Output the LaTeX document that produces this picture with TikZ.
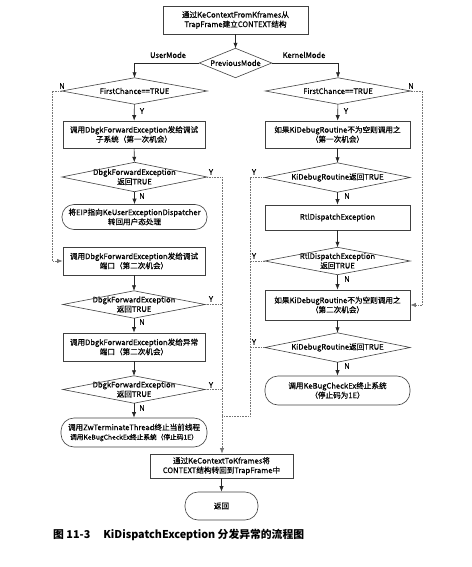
\documentclass[tikz,border=0pt]{standalone}
\usepackage{fontspec}
\setmainfont{Noto Sans CJK SC}
\newfontfamily\boxfont{Noto Sans CJK SC}[FakeBold=0.5]
\usetikzlibrary{arrows.meta}
\tikzset{
  every node/.style={inner sep=0pt, align=center},
  txt/.style={font=\boxfont\fontsize{7.6}{9.5}\selectfont},
  procbox/.style={txt, draw=black!75, line width=0.6pt, rectangle, minimum width=142pt, minimum height=27pt},
  termbox/.style={txt, draw=black!75, line width=0.6pt, rectangle, rounded corners=12pt, minimum width=145pt, minimum height=27pt},
  decide/.style={txt, rectangle, minimum width=145pt, minimum height=28pt},
  diaedge/.style={draw=black!75, line width=0.6pt},
  arr/.style={draw=black!85, line width=0.6pt, -{Latex[length=5.5pt,width=4.2pt]}},
  link/.style={draw=black!55, line width=0.6pt, densely dotted},
  linkarr/.style={link, -{Latex[length=5.5pt,width=4.2pt]}},
  lbl/.style={font=\boxfont\fontsize{7.6}{9}\selectfont},
}
\begin{document}
\begin{tikzpicture}[x=1pt,y=-1pt]
\useasboundingbox (0,0) rectangle (471,567);
% top
\node[procbox, minimum width=145pt, minimum height=28pt] (top) at (235.5,20) {通过KeContextFromKframes从\\TrapFrame建立CONTEXT结构};
\node[decide, minimum width=72pt, minimum height=29pt] (prev) at (235.5,63) {PreviousMode};
% left column
\node[decide, minimum height=26pt] (fcL) at (134.5,91) {FirstChance==TRUE};
\node[procbox] (b1) at (134,134.5) {调用DbgkForwardException发给调试\\子系统（第一次机会）};
\node[decide, minimum height=29pt] (d2) at (134.5,177) {DbgkForwardException\\返回TRUE};
\node[termbox, minimum height=25pt] (t3) at (134.5,217) {将EIP指向KeUserExceptionDispatcher\\转回用户态处理};
\node[procbox, minimum height=28pt] (b3) at (134,261) {调用DbgkForwardException发给调试\\端口（第二次机会）};
\node[decide, minimum width=142pt, minimum height=27pt] (d4) at (134,304.5) {DbgkForwardException\\返回TRUE};
\node[procbox, minimum height=28pt] (b5) at (134,347) {调用DbgkForwardException发给异常\\端口（第二次机会）};
\node[decide, minimum width=142pt, minimum height=27pt] (d6) at (134,389.5) {DbgkForwardException\\返回TRUE};
\node[termbox, minimum width=146pt, minimum height=29pt, rounded corners=13pt] (t7) at (134,432.5) {调用ZwTerminateThread终止当前线程\\{\fontsize{6.7}{8}\selectfont 调用KeBugCheckEx终止系统（停止码1E）}};
% right column
\node[decide, minimum height=26pt] (fcR) at (338,91) {FirstChance==TRUE};
\node[procbox, minimum width=145pt] (r1) at (337.5,134.5) {如果KiDebugRoutine不为空则调用之\\（第一次机会）};
\node[decide, minimum height=29pt] (rd2) at (337.5,177.5) {KiDebugRoutine返回TRUE};
\node[procbox, minimum width=145pt, minimum height=25pt] (r3) at (337.5,217.5) {RtlDispatchException};
\node[decide, minimum height=27pt] (rd4) at (337.5,261) {RtlDispatchException\\返回TRUE};
\node[procbox, minimum width=145pt, minimum height=30pt] (r5) at (337.5,305) {如果KiDebugRoutine不为空则调用之\\（第二次机会）};
\node[decide, minimum height=29pt] (rd6) at (337.5,347.5) {KiDebugRoutine返回TRUE};
\node[termbox, minimum height=29pt, rounded corners=13pt] (rt7) at (337.5,390.5) {调用KeBugCheckEx终止系统\\（停止码为1E）};
% bottom
\node[procbox, minimum width=143pt, minimum height=24pt] (bot) at (221.5,466) {通过KeContextToKframes将\\CONTEXT结构转回到TrapFrame中};
\node[termbox, minimum width=73pt, minimum height=28pt, rounded corners=13pt] (ret) at (221.5,506) {返回};
\node[font=\fontsize{10.8}{12}\selectfont\bfseries, anchor=west] (cap) at (53,535) {图 11-3\hspace{1.2em}KiDispatchException 分发异常的流程图};
% diamonds
\foreach \n in {prev,fcL,d2,d4,d6,fcR,rd2,rd4,rd6}
  \draw[diaedge] (\n.north) -- (\n.east) -- (\n.south) -- (\n.west) -- cycle;
% junction coordinates
\coordinate (jx) at (222,0);
\coordinate (kx) at (250,0);
\coordinate (nl) at (52,0);
\coordinate (nr) at (422,0);
\coordinate (mj) at (250,416);
% main flow
\draw[arr] (top) -- (prev);
\draw[arr] (prev.west) -| (fcL.north);
\draw[arr] (prev.east) -| (fcR.north);
\node[lbl] (um) at (168,55) {UserMode};
\node[lbl] (km) at (304,55) {KernelMode};
\draw[arr] (fcL) -- (b1);
\draw[arr] (b1) -- (d2);
\draw[arr] (d2) -- (t3);
\draw[arr] (b3) -- (d4);
\draw[arr] (d4) -- (b5);
\draw[arr] (b5) -- (d6);
\draw[arr] (d6) -- (t7);
\draw[arr] (fcR) -- (r1);
\draw[arr] (r1) -- (rd2);
\draw[arr] (rd2) -- (r3);
\draw[arr] (r3) -- (rd4);
\draw[arr] (rd4) -- (r5);
\draw[arr] (r5) -- (rd6);
\draw[arr] (rd6) -- (rt7);
\draw[arr] (bot) -- (ret);
% Y / N labels on main flow
\node[lbl] (y1) at (142,111) {Y};
\node[lbl] (n2) at (142,196) {N};
\node[lbl] (n4) at (142,322) {N};
\node[lbl] (n6) at (142,408) {N};
\node[lbl] (y1r) at (346,111) {Y};
\node[lbl] (n2r) at (347,196) {N};
\node[lbl] (n4r) at (347,279) {N};
\node[lbl] (n6r) at (347,366) {N};
% N loops
\draw[linkarr] (fcL.west) -- (fcL.west -| nl) |- (b3.west);
\node[lbl] (nL) at (62,86) {N};
\draw[linkarr] (fcR.east) -- (fcR.east -| nr) |- (r5.east);
\node[lbl] (nR) at (411,86) {N};
% left Y lines
\draw[link] (d2.east) -- (d2.east -| jx);
\draw[link] (d4.east) -- (d4.east -| jx);
\draw[link] (d6.east) -- (d6.east -| jx);
\draw[linkarr] (d2.east -| jx) -- (bot.north -| jx);
\node[lbl] (yd2) at (211,172) {Y};
\node[lbl] (yd4) at (211,299) {Y};
\node[lbl] (yd6) at (211,385) {Y};
% right Y lines
\draw[link] (rd2.west) -- (rd2.west -| kx);
\draw[link] (rd4.west) -- (rd4.west -| kx);
\draw[link] (rd6.west) -- (rd6.west -| kx);
\draw[link] (rd2.west -| kx) -- (mj) -- (mj -| jx);
\node[lbl] (yr2) at (254,172) {Y};
\node[lbl] (yr4) at (254,256) {Y};
\node[lbl] (yr6) at (254,342) {Y};
\end{tikzpicture}
\end{document}
